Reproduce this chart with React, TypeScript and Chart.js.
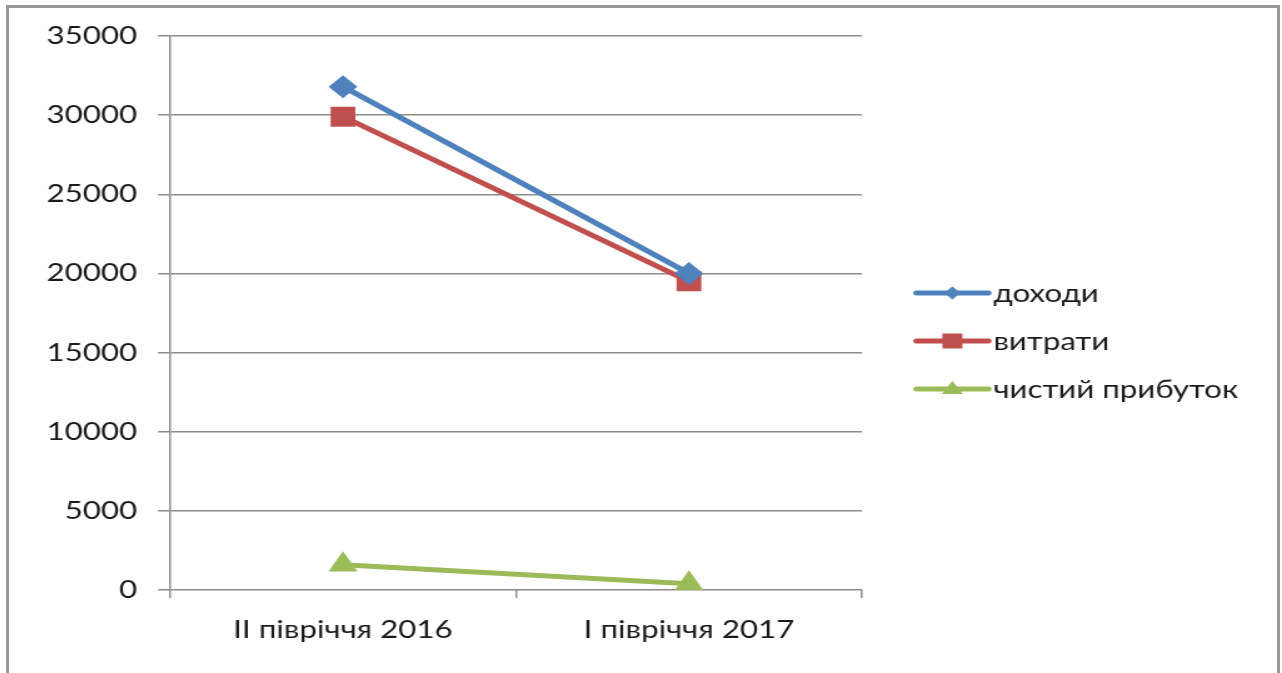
import React, { useEffect, useRef } from "react";
import { Chart, registerables } from "chart.js";

Chart.register(...registerables);

const categories = ["II півріччя 2016", "I півріччя 2017"];
const incomeValues = [31800, 20000];
const expenseValues = [29900, 19500];
const profitValues = [1600, 400];
const seriesNames = ["доходи", "витрати", "чистий прибуток"];
const yTickMin = 0;
const yTickMax = 35000;
const yTickStep = 5000;

const FONT = "Lato, 'Liberation Sans', sans-serif";
const SCALE_X = 1268 / 1014;

const legendPlugin = {
  id: "customLegend",
  afterDraw(chart: any) {
    const ctx = chart.ctx;
    const x0 = 725.6;
    const x1 = 783.2;
    const xm = (x0 + x1) / 2;
    const tx = 787.2;
    const ys = [285, 333, 381];
    ctx.save();
    chart.data.datasets.forEach((ds: any, i: number) => {
      const y = ys[i];
      ctx.strokeStyle = ds.borderColor;
      ctx.lineWidth = 5;
      ctx.lineCap = "round";
      ctx.beginPath();
      ctx.moveTo(x0, y);
      ctx.lineTo(x1, y);
      ctx.stroke();
      ctx.fillStyle = ds.backgroundColor;
      ctx.beginPath();
      if (ds.pointStyle === "rectRot") {
        const r = 6.5;
        ctx.moveTo(xm, y - r);
        ctx.lineTo(xm + r, y);
        ctx.lineTo(xm, y + r);
        ctx.lineTo(xm - r, y);
      } else if (ds.pointStyle === "rect") {
        ctx.rect(xm - 8, y - 7.5, 16, 15);
      } else {
        ctx.moveTo(xm, y - 8);
        ctx.lineTo(xm + 8.5, y + 5);
        ctx.lineTo(xm - 8.5, y + 5);
      }
      ctx.closePath();
      ctx.fill();
      ctx.fillStyle = "#1a1a1a";
      ctx.font = `25px ${FONT}`;
      ctx.textAlign = "left";
      ctx.textBaseline = "middle";
      ctx.fillText(ds.label, tx, y + 1);
    });
    ctx.restore();
  },
};

export default function App() {
  const ref = useRef<HTMLCanvasElement | null>(null);

  useEffect(() => {
    if (!ref.current) return;
    const chart = new Chart(ref.current, {
      type: "line",
      data: {
        labels: categories,
        datasets: [
          {
            label: seriesNames[0],
            data: incomeValues,
            borderColor: "#4F81BD",
            backgroundColor: "#4F81BD",
            borderWidth: 5,
            pointStyle: "rectRot",
            pointRadius: 11.5,
            pointBorderWidth: 0,
          },
          {
            label: seriesNames[1],
            data: expenseValues,
            borderColor: "#C0504D",
            backgroundColor: "#C0504D",
            borderWidth: 5,
            pointStyle: "rect",
            pointRadius: 14,
            pointBorderWidth: 0,
          },
          {
            label: seriesNames[2],
            data: profitValues,
            borderColor: "#9BBB59",
            backgroundColor: "#9BBB59",
            borderWidth: 5,
            pointStyle: "triangle",
            pointRadius: 13.5,
            pointBorderWidth: 0,
          },
        ],
      },
      options: {
        responsive: false,
        animation: false,
        devicePixelRatio: 1,
        layout: { padding: { top: 28, right: 1014 - 682.1, left: 0, bottom: 0 } },
        plugins: { legend: { display: false }, tooltip: { enabled: false } },
        scales: {
          x: {
            offset: true,
            grid: {
              offset: true,
              drawOnChartArea: false,
              drawTicks: true,
              tickLength: 8,
              color: "#8c8c8c",
              lineWidth: 1.5,
            },
            border: { display: false },
            ticks: {
              color: "#1a1a1a",
              font: { family: FONT, size: 25 },
              padding: 17,
              maxRotation: 0,
            },
            afterFit: (s: any) => {
              s.height = 83;
            },
          },
          y: {
            min: yTickMin,
            max: yTickMax,
            ticks: {
              stepSize: yTickStep,
              color: "#1a1a1a",
              font: { family: FONT, size: 25 },
              padding: 16.8,
              callback: (v: any) => String(v),
            },
            grid: {
              color: "#8c8c8c",
              lineWidth: 1.5,
              tickLength: 9.5,
            },
            border: { display: true, color: "#8c8c8c", width: 1.5 },
            afterFit: (s: any) => {
              s.width = 128.7;
              s.paddingTop = 0;
              s.paddingBottom = 0;
            },
          },
        },
      },
      plugins: [legendPlugin],
    } as any);
    return () => chart.destroy();
  }, []);

  return (
    <div
      style={{
        position: "absolute",
        left: 6,
        top: 5,
        width: 1268,
        height: 700,
        borderTop: "3px solid #999",
        borderLeft: "3px solid #999",
        borderRight: "3px solid #999",
        background: "#fff",
        overflow: "hidden",
      }}
    >
      <canvas
        ref={ref}
        width={1014}
        height={665}
        style={{ display: "block", width: 1014 * SCALE_X, height: 665 }}
      />
    </div>
  );
}
